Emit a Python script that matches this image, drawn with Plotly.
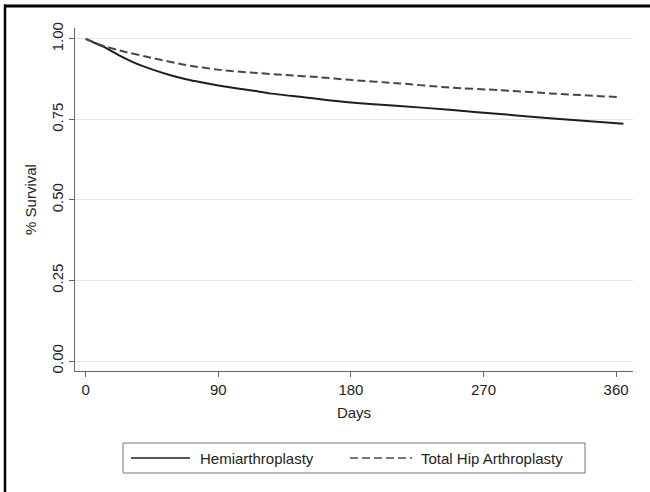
import plotly.graph_objects as go

# Data
hemi_days = [0, 5, 12, 23, 34, 46, 57, 68, 80, 91, 102, 114, 125, 148, 170, 193, 213, 247, 281, 315, 365]
hemi_surv = [1.0, 0.990, 0.976, 0.948, 0.924, 0.904, 0.888, 0.875, 0.864, 0.855, 0.847, 0.839, 0.831,
             0.819, 0.807, 0.798, 0.792, 0.780, 0.767, 0.754, 0.737]
tha_days = [0, 5, 10, 23, 46, 68, 91, 114, 136, 159, 179, 213, 247, 281, 315, 363]
tha_surv = [1.0, 0.990, 0.981, 0.964, 0.940, 0.919, 0.904, 0.895, 0.888, 0.881, 0.873, 0.862, 0.849,
            0.841, 0.831, 0.819]
series_names = ["Hemiarthroplasty", "Total Hip Arthroplasty"]
x_ticks = [0, 90, 180, 270, 360]
y_ticks = [0.0, 0.25, 0.5, 0.75, 1.0]
y_tick_labels = ["0.00", "0.25", "0.50", "0.75", "1.00"]

FONT = "Liberation Sans, Arial, Helvetica, sans-serif"
SOLID_COLOR = "#1e1e1e"
DASH_COLOR = "#474747"
DASH = "8px,4px"
FS = 15

fig = go.Figure()
fig.add_trace(go.Scatter(x=hemi_days, y=hemi_surv, mode="lines", name=series_names[0],
                         line=dict(color=SOLID_COLOR, width=2, shape="spline", smoothing=0.6),
                         showlegend=False))
fig.add_trace(go.Scatter(x=tha_days, y=tha_surv, mode="lines", name=series_names[1],
                         line=dict(color=DASH_COLOR, width=2, dash=DASH, shape="spline", smoothing=0.6),
                         showlegend=False))

L, R, T, B = 75, 17, 28, 121
W, H = 650, 492
pw, ph = W - L - R, H - T - B

def px(xp):
    return (xp - L) / pw

def py(yp):
    return (H - B - yp) / ph

shapes = [
    # outer frame (top and left edges visible)
    dict(type="line", xref="paper", yref="paper", x0=px(4), x1=px(700), y0=py(6), y1=py(6),
         line=dict(color="black", width=3), layer="above"),
    dict(type="line", xref="paper", yref="paper", x0=px(5), x1=px(5), y0=py(4.5), y1=py(520),
         line=dict(color="black", width=2.5), layer="above"),
    # legend box
    dict(type="rect", xref="paper", yref="paper", x0=px(123), x1=px(585), y0=py(443), y1=py(473),
         line=dict(color="#777777", width=1), fillcolor="white"),
    dict(type="line", xref="paper", yref="paper", x0=px(131), x1=px(190), y0=py(458), y1=py(458),
         line=dict(color=SOLID_COLOR, width=1.5)),
    dict(type="line", xref="paper", yref="paper", x0=px(350), x1=px(412), y0=py(458), y1=py(458),
         line=dict(color=DASH_COLOR, width=1.5, dash=DASH)),
]
annotations = [
    dict(xref="paper", yref="paper", x=px(198), y=py(458), text=series_names[0], showarrow=False,
         xanchor="left", yanchor="middle", font=dict(family=FONT, size=FS, color="#222")),
    dict(xref="paper", yref="paper", x=px(419), y=py(458), text=series_names[1], showarrow=False,
         xanchor="left", yanchor="middle", font=dict(family=FONT, size=FS, color="#222")),
]

fig.update_layout(
    width=W, height=H,
    margin=dict(l=L, r=R, t=T, b=B),
    paper_bgcolor="white", plot_bgcolor="white",
    font=dict(family=FONT, size=FS, color="#222"),
    shapes=shapes, annotations=annotations,
    showlegend=False,
)
fig.update_xaxes(
    range=[-7.3, 371.5], tickvals=x_ticks, ticks="outside", ticklen=5, tickcolor="#666",
    showline=True, linecolor="#666", linewidth=1, showgrid=False, zeroline=False,
    tickfont=dict(size=FS), title=dict(text="Days", font=dict(size=FS), standoff=10),
)
fig.update_yaxes(
    range=[-0.031, 1.034], tickvals=y_ticks, ticktext=y_tick_labels, tickangle=-90,
    ticks="outside", ticklen=5, tickcolor="#666",
    showline=True, linecolor="#666", linewidth=1, showgrid=True, gridcolor="#e4e4e4", gridwidth=1,
    zeroline=False, tickfont=dict(size=FS), title=dict(text="% Survival", font=dict(size=FS), standoff=8),
)

fig.write_html("out.html", config={"displayModeBar": False},
               post_script="document.body.style.margin='0';")
